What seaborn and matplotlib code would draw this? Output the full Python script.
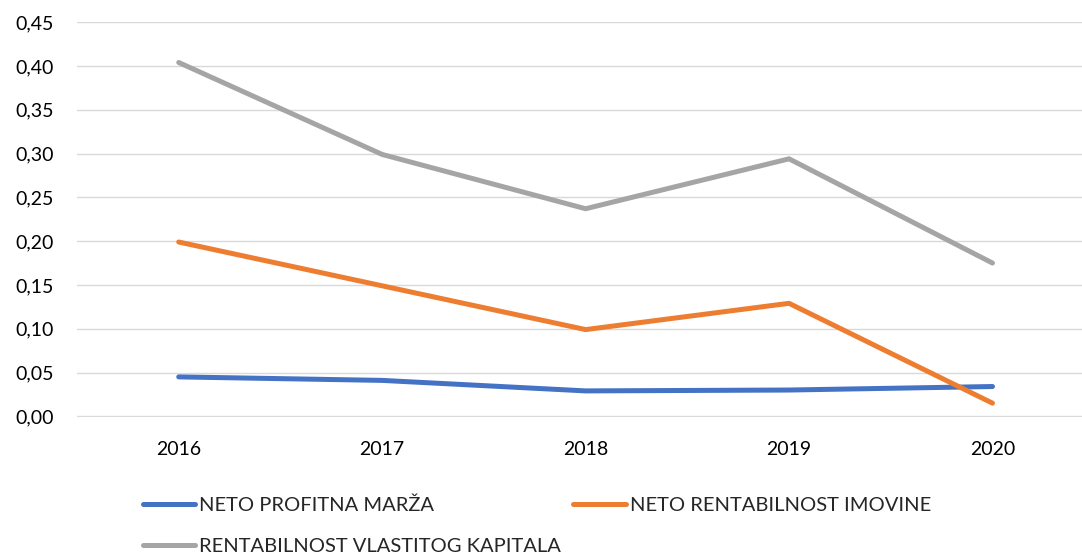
import matplotlib.pyplot as plt
import seaborn as sns
import pandas as pd

# Values
years = ["2016", "2017", "2018", "2019", "2020"]
profit_margin = [0.045, 0.041, 0.029, 0.030, 0.034]
return_assets = [0.199, 0.149, 0.099, 0.129, 0.015]
return_equity = [0.404, 0.299, 0.237, 0.294, 0.175]
series_names = ["NETO PROFITNA MARŽA", "NETO RENTABILNOST IMOVINE",
                "RENTABILNOST VLASTITOG KAPITALA"]
y_ticks = [0.00, 0.05, 0.10, 0.15, 0.20, 0.25, 0.30, 0.35, 0.40, 0.45]

df = pd.DataFrame({
    "year": years * 3,
    "value": profit_margin + return_assets + return_equity,
    "series": [series_names[0]] * 5 + [series_names[1]] * 5 + [series_names[2]] * 5,
})

palette = {
    series_names[0]: "#4472C4",
    series_names[1]: "#ED7D31",
    series_names[2]: "#A5A5A5",
}

sns.set_style("white")
plt.rcParams["font.family"] = ["Lato", "DejaVu Sans"]

fig = plt.figure(figsize=(10.82, 5.56), dpi=100)
ax = fig.add_axes([77 / 1082, 1 - 417 / 556, 1 - 77 / 1082, (417 - 21.5) / 556])

sns.lineplot(data=df, x="year", y="value", hue="series", palette=palette,
             linewidth=3.6, sort=False, ax=ax)
for line in ax.lines:
    line.set_solid_capstyle("round")

ax.set_ylim(-0.0008, 0.4508)
ax.set_xlim(-0.5, 4.44)
ax.set_yticks(y_ticks)
ax.set_yticklabels([f"{t:.2f}".replace(".", ",") for t in y_ticks])
ax.grid(axis="y", color="#D9D9D9", linewidth=1.0)
ax.grid(axis="x", visible=False)
ax.set_axisbelow(True)
for spine in ax.spines.values():
    spine.set_visible(False)
ax.tick_params(axis="both", length=0, labelsize=14, labelcolor="black")
ax.tick_params(axis="y", pad=17)
ax.tick_params(axis="x", pad=17)
ax.set_xlabel("")
ax.set_ylabel("")

# Legend laid out row by row under the plot
handles, labels = ax.get_legend_handles_labels()
ax.get_legend().remove()
order = [0, 2, 1]
fig.legend([handles[i] for i in order], [labels[i] for i in order],
           ncol=2, loc="upper left", bbox_to_anchor=(133 / 1082, 1 - 486 / 556),
           frameon=False, fontsize=14.5, handlelength=2.6, handletextpad=0.2,
           columnspacing=0.6, labelspacing=1.2, borderpad=0)

fig.savefig("out.png", dpi=100)
